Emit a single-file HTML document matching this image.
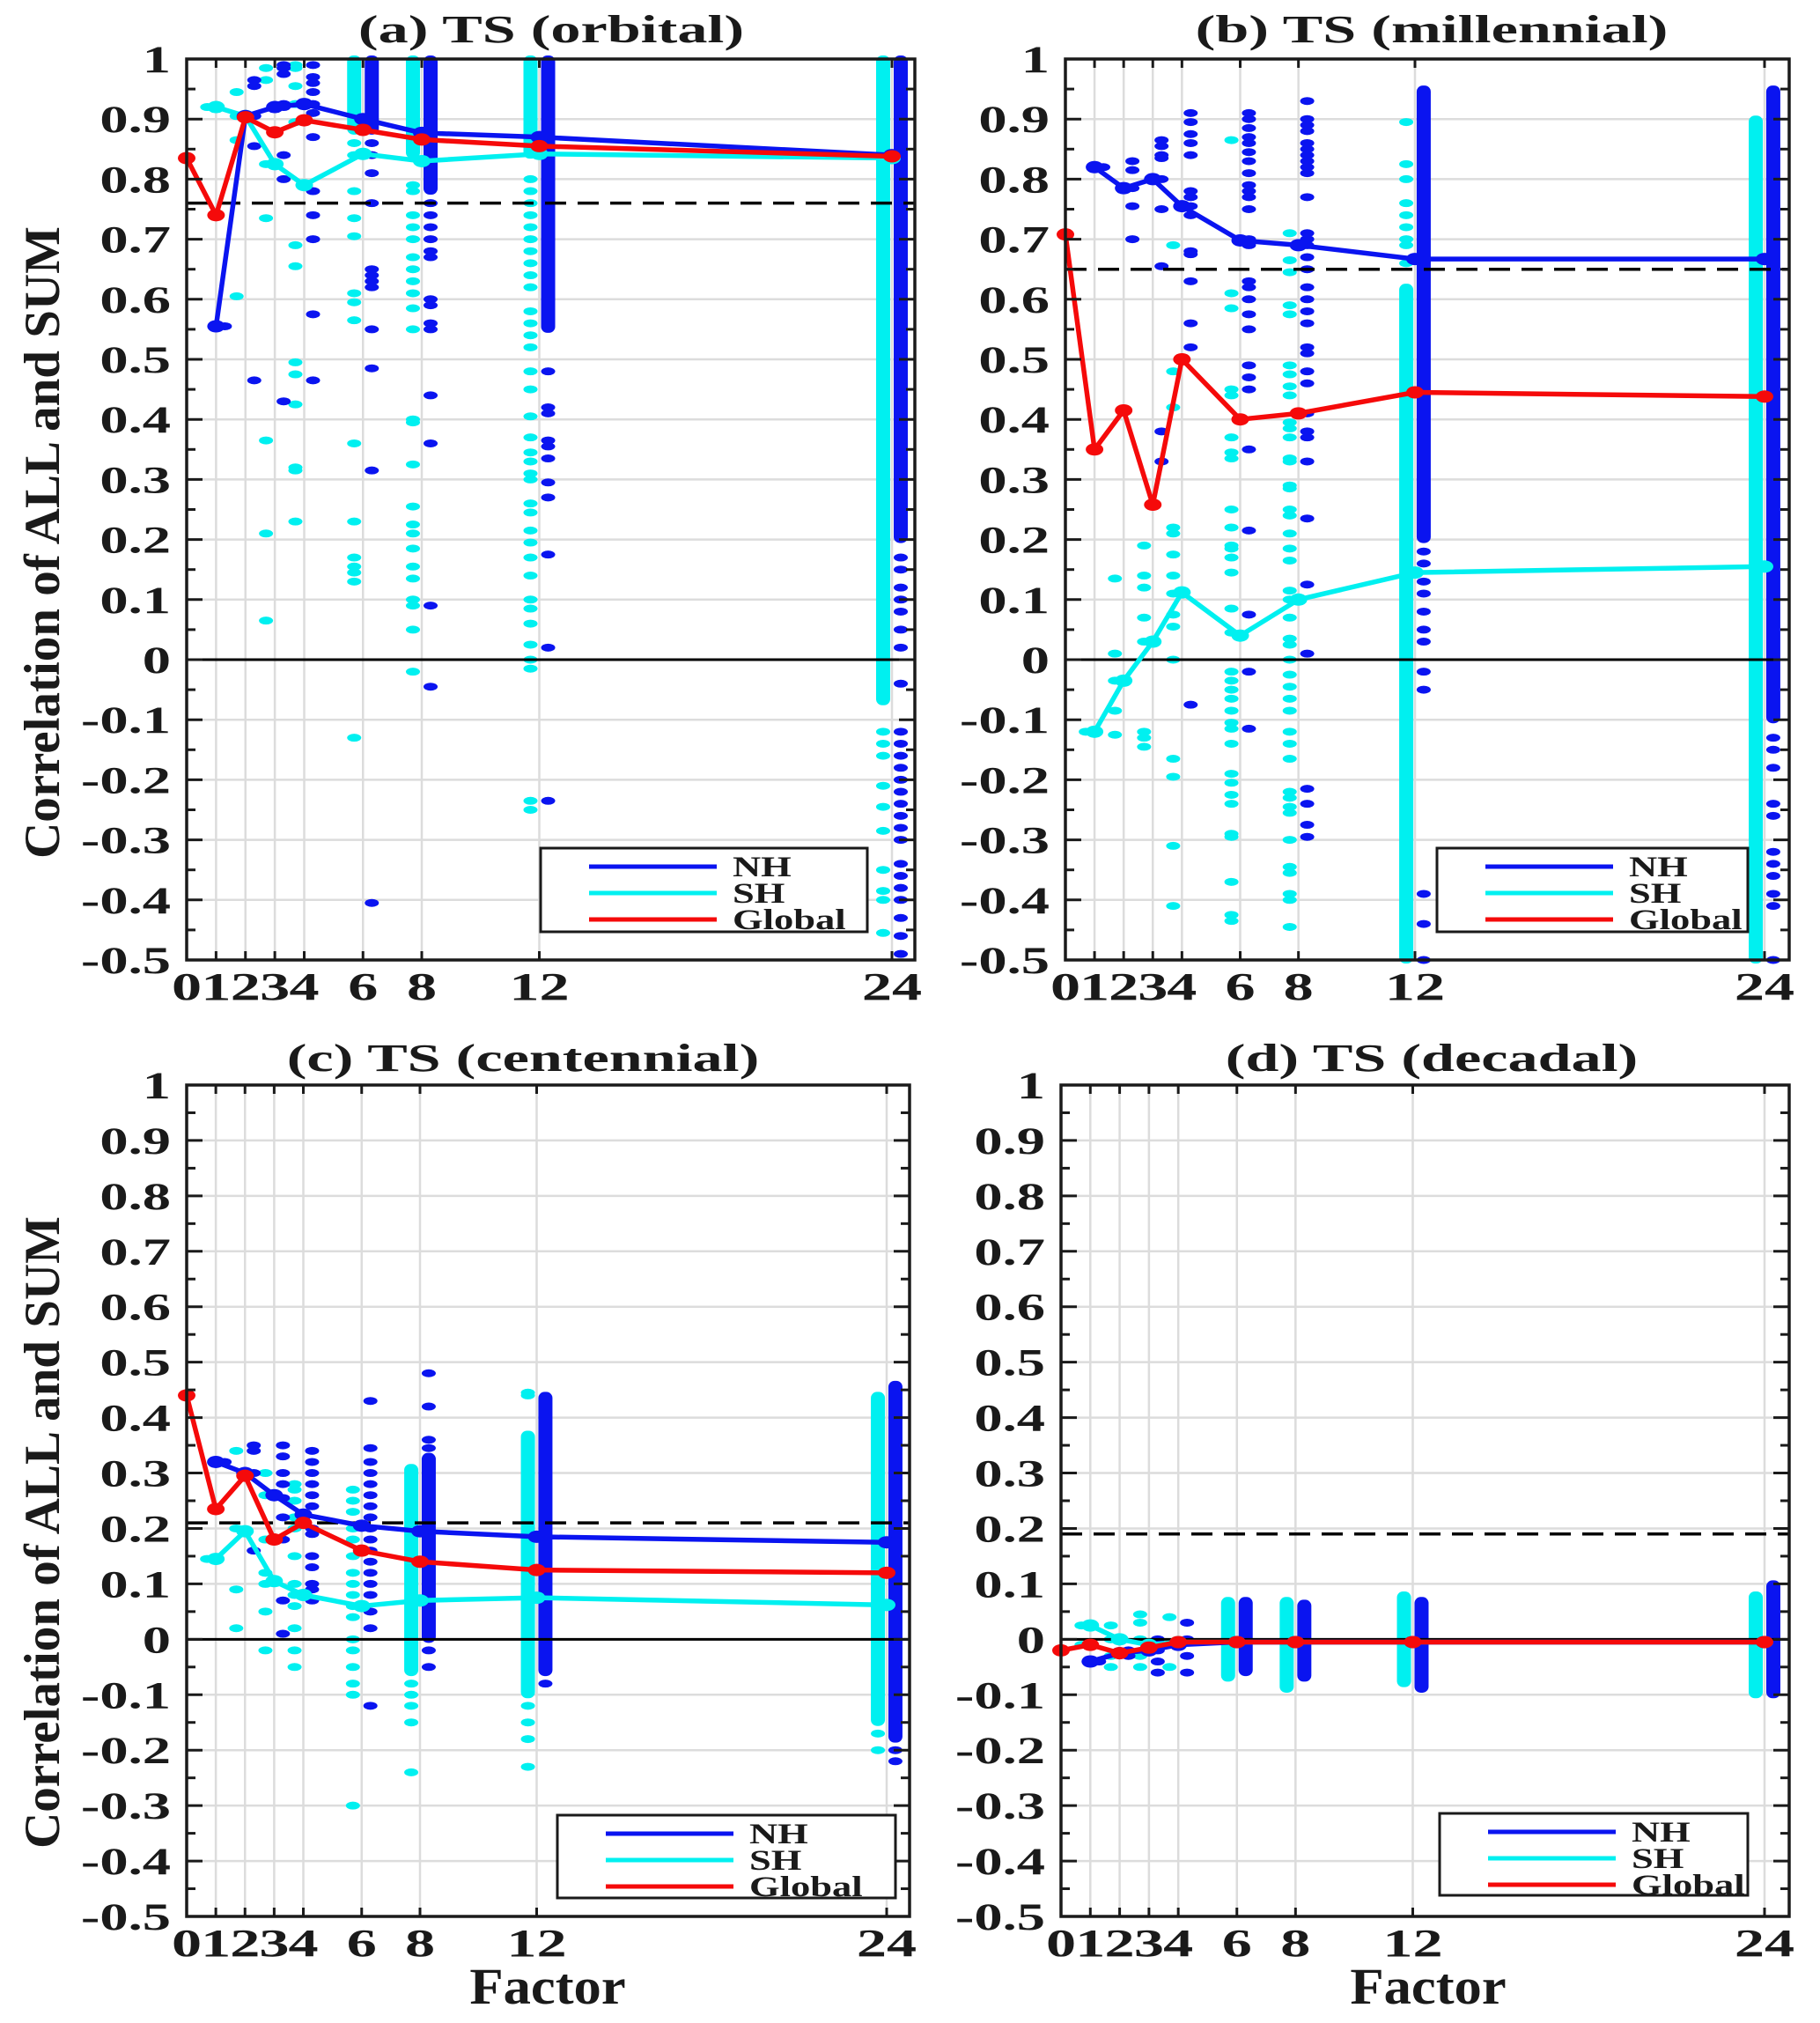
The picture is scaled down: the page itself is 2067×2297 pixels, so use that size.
<!DOCTYPE html>
<html><head><meta charset="utf-8"><title>TS correlations</title>
<style>
html,body{margin:0;padding:0;background:#fff;}
svg{display:block;font-family:"Liberation Serif",serif;font-weight:bold;}
</style></head>
<body>
<svg id="fig" width="2067" height="2297" viewBox="0 0 2067 2297" xmlns="http://www.w3.org/2000/svg">
<rect x="0" y="0" width="2067" height="2297" fill="#fff"/>
<text x="0" y="0" font-size="57" text-anchor="middle" fill="#1a1a1a" transform="translate(67,616) rotate(-90)">Correlation of ALL and SUM</text>
<text x="0" y="0" font-size="57" text-anchor="middle" fill="#1a1a1a" transform="translate(67,1740) rotate(-90)">Correlation of ALL and SUM</text>
<text x="0" y="0" font-size="58" text-anchor="middle" fill="#1a1a1a" transform="translate(622,2275) scale(1.08,1)">Factor</text>
<text x="0" y="0" font-size="58" text-anchor="middle" fill="#1a1a1a" transform="translate(1622,2275) scale(1.08,1)">Factor</text>
</svg>
<script>
const factors = [1,2,3,4,6,8,12,24];
const globalFactors = [0,1,2,3,4,6,8,12,24];
const yTicks = [-0.5,-0.4,-0.3,-0.2,-0.1,0,0.1,0.2,0.3,0.4,0.5,0.6,0.7,0.8,0.9,1];
const yTickLabels = ["-0.5","-0.4","-0.3","-0.2","-0.1","0","0.1","0.2","0.3","0.4","0.5","0.6","0.7","0.8","0.9","1"];
const xTickLabels = ["0","1","2","3","4","6","8","12","24"];

// Panel (a) orbital
const aNH = [0.555,0.905,0.92,0.925,0.90,0.877,0.87,0.84];
const aSH = [0.92,0.905,0.825,0.79,0.842,0.83,0.842,0.835];
const aGL = [0.835,0.74,0.903,0.878,0.898,0.882,0.866,0.855,0.838];
const aThresh = 0.76;
const aNHdots = {1:[0.555],2:[0.965,0.955,0.905,0.855,0.465],3:[0.99,0.985,0.975,0.925,0.92,0.84,0.80,0.43],4:[0.99,0.97,0.96,0.945,0.925,0.91,0.87,0.78,0.74,0.70,0.575,0.465],6:[0.86,0.84,0.81,0.76,0.65,0.64,0.63,0.62,0.55,0.485,0.315,-0.405],8:[0.76,0.74,0.72,0.70,0.68,0.67,0.60,0.59,0.56,0.55,0.44,0.36,0.09,-0.045],12:[0.48,0.42,0.41,0.365,0.355,0.335,0.295,0.27,0.175,0.02,-0.235,-0.32,-0.405,-0.43],24:[0.17,0.15,0.12,0.1,0.08,0.05,0.02,-0.04,-0.12,-0.14,-0.16,-0.18,-0.2,-0.22,-0.24,-0.26,-0.28,-0.3,-0.34,-0.36,-0.38,-0.4,-0.43,-0.46,-0.49]};
const aNHbands = [[6,0.88,1],[8,0.78,1],[12,0.55,1],[24,0.2,1]];
const aSHdots = {1:[0.92],2:[0.945,0.905,0.865,0.605],3:[0.985,0.965,0.825,0.735,0.365,0.21,0.065],4:[0.99,0.985,0.955,0.925,0.895,0.69,0.655,0.495,0.475,0.425,0.32,0.315,0.23],6:[0.86,0.84,0.78,0.735,0.705,0.61,0.595,0.565,0.36,0.23,0.17,0.155,0.145,0.13,-0.13],8:[0.79,0.78,0.74,0.72,0.70,0.67,0.65,0.63,0.61,0.585,0.55,0.4,0.395,0.325,0.255,0.225,0.21,0.185,0.155,0.135,0.1,0.09,0.05,-0.02],12:[0.8,0.78,0.76,0.74,0.72,0.7,0.68,0.66,0.64,0.62,0.58,0.56,0.54,0.52,0.48,0.45,0.405,0.37,0.345,0.33,0.31,0.3,0.26,0.245,0.215,0.195,0.17,0.14,0.1,0.085,0.06,0.025,0.0,-0.015,-0.235,-0.25],24:[-0.12,-0.14,-0.16,-0.21,-0.245,-0.285,-0.35,-0.385,-0.4,-0.455]};
const aSHbands = [[6,0.88,1],[8,0.84,1],[12,0.84,1],[24,-0.07,1]];

// Panel (b) millennial
const bNH = [0.82,0.785,0.80,0.755,0.698,0.69,0.667,0.667];
const bSH = [-0.12,-0.035,0.03,0.112,0.04,0.10,0.145,0.155];
const bGL = [0.708,0.35,0.415,0.258,0.50,0.40,0.41,0.445,0.438];
const bThresh = 0.65;
const bNHdots = {1:[0.82],2:[0.83,0.815,0.785,0.755,0.70],3:[0.865,0.855,0.84,0.835,0.80,0.75,0.655,0.38,0.33],4:[0.91,0.895,0.875,0.86,0.84,0.78,0.77,0.755,0.74,0.68,0.675,0.63,0.56,0.52,-0.075],6:[0.91,0.9,0.885,0.87,0.86,0.845,0.83,0.81,0.79,0.78,0.77,0.75,0.7,0.69,0.63,0.62,0.6,0.575,0.55,0.49,0.47,0.45,0.35,0.215,0.075,-0.02,-0.115],8:[0.93,0.9,0.89,0.88,0.86,0.85,0.84,0.83,0.82,0.81,0.77,0.71,0.7,0.69,0.67,0.65,0.62,0.6,0.58,0.56,0.52,0.51,0.48,0.46,0.41,0.38,0.37,0.33,0.235,0.125,0.01,-0.215,-0.24,-0.275,-0.295],12:[0.18,0.16,0.13,0.11,0.08,0.05,0.03,-0.02,-0.05,-0.39,-0.44,-0.5],24:[-0.13,-0.15,-0.18,-0.24,-0.26,-0.32,-0.34,-0.36,-0.39,-0.41,-0.5]};
const bNHbands = [[12,0.2,0.95],[24,-0.1,0.95]];
const bSHdots = {1:[-0.12],2:[0.135,0.01,-0.035,-0.085,-0.125],3:[0.19,0.14,0.12,0.07,0.03,-0.12,-0.13,-0.145],4:[0.69,0.48,0.42,0.22,0.21,0.175,0.14,0.11,0.075,0.055,0.0,-0.165,-0.195,-0.31,-0.41],6:[0.865,0.61,0.585,0.45,0.44,0.37,0.345,0.335,0.25,0.22,0.19,0.185,0.17,0.145,0.085,0.045,-0.02,-0.035,-0.05,-0.065,-0.085,-0.105,-0.115,-0.14,-0.19,-0.205,-0.225,-0.24,-0.29,-0.295,-0.37,-0.425,-0.435],8:[0.71,0.665,0.645,0.59,0.575,0.49,0.475,0.455,0.44,0.395,0.385,0.37,0.335,0.33,0.29,0.285,0.25,0.24,0.21,0.185,0.165,0.115,0.1,0.07,0.035,0.025,0.0,-0.025,-0.045,-0.065,-0.085,-0.12,-0.14,-0.165,-0.22,-0.23,-0.245,-0.255,-0.3,-0.345,-0.355,-0.39,-0.4,-0.445],12:[0.895,0.825,0.8,0.76,0.74,0.72,0.7,0.69,0.66],24:[]};
const bSHbands = [[12,-0.5,0.62],[24,-0.5,0.9]];

// Panel (c) centennial
const cNH = [0.32,0.30,0.26,0.225,0.205,0.195,0.185,0.175];
const cSH = [0.145,0.195,0.105,0.08,0.06,0.07,0.075,0.062];
const cGL = [0.44,0.235,0.295,0.18,0.21,0.16,0.14,0.125,0.12];
const cThresh = 0.21;
const cNHdots = {1:[0.32],2:[0.35,0.34,0.3,0.16],3:[0.35,0.33,0.3,0.28,0.255,0.22,0.18,0.07,0.01],4:[0.34,0.32,0.3,0.28,0.26,0.24,0.2,0.19,0.15,0.13,0.1,0.09,0.07],6:[0.43,0.345,0.32,0.3,0.28,0.26,0.24,0.22,0.2,0.18,0.16,0.14,0.12,0.1,0.08,0.05,0.02,-0.12],8:[0.48,0.42,0.36,0.345,-0.02,-0.05],12:[-0.08],24:[-0.2,-0.22]};
const cNHbands = [[8,0.0,0.33],[12,-0.06,0.44],[24,-0.18,0.46]];
const cSHdots = {1:[0.145],2:[0.34,0.2,0.09,0.02],3:[0.3,0.26,0.18,0.12,0.1,0.05,-0.02],4:[0.28,0.27,0.25,0.22,0.2,0.15,0.1,0.08,0.06,0.02,-0.02,-0.05],6:[0.27,0.25,0.23,0.2,0.18,0.15,0.12,0.1,0.08,0.06,0.04,0.0,-0.02,-0.05,-0.08,-0.1,-0.3],8:[-0.08,-0.1,-0.12,-0.15,-0.24],12:[0.445,0.44,-0.12,-0.15,-0.18,-0.23],24:[-0.17,-0.2,-0.37]};
const cSHbands = [[8,-0.06,0.31],[12,-0.1,0.37],[24,-0.15,0.44]];

// Panel (d) decadal
const dNH = [-0.04,-0.025,-0.02,-0.01,-0.005,-0.005,-0.005,-0.005];
const dSH = [0.025,0.0,-0.01,-0.005,-0.005,-0.005,-0.005,-0.005];
const dGL = [-0.02,-0.01,-0.025,-0.015,-0.005,-0.005,-0.005,-0.005,-0.005];
const dThresh = 0.19;
const dNHdots = {1:[-0.04],2:[-0.02,-0.03],3:[0.0,-0.02,-0.04,-0.06],4:[0.03,0.0,-0.03,-0.06],6:[],8:[],12:[],24:[]};
const dNHbands = [[6,-0.06,0.07],[8,-0.07,0.065],[12,-0.09,0.07],[24,-0.1,0.1]];
const dSHdots = {1:[0.025,-0.01],2:[0.025,0.0,-0.03,-0.05],3:[0.045,0.03,0.0,-0.03,-0.05],4:[0.04,-0.05],6:[],8:[],12:[],24:[]};
const dSHbands = [[6,-0.07,0.07],[8,-0.09,0.07],[12,-0.08,0.08],[24,-0.1,0.08]];

const NS = "http://www.w3.org/2000/svg";
const svg = document.getElementById('fig');
function mk(tag, attrs, parent){
  const e = document.createElementNS(NS, tag);
  for (const k in attrs) e.setAttribute(k, attrs[k]);
  (parent||svg).appendChild(e);
  return e;
}
function txt(parent, x, y, size, sx, anchor, str){
  const t = mk('text', {x:0, y:0, 'font-size':size, 'text-anchor':anchor, fill:'#1a1a1a',
    transform:'translate(' + x + ',' + y + ') scale(' + sx + ',1)'}, parent);
  t.textContent = str;
  return t;
}
const BLUE = "#0a14f0", CYAN = "#00f0f0", RED = "#f50a0a";

function drawPanel(p){
  const g = mk('g', {});
  
  
  const sx = v => p.L + v * (p.x24 - p.L) / 24;
  const sy = v => p.B - (v + 0.5) / 1.5 * (p.B - p.T);
  factors.forEach(f => {
    const l = mk('line', {x1:sx(f), x2:sx(f), y1:p.T, y2:p.B, stroke:'#dcdcdc', 'stroke-width':2.5}, g);
    
    
  });
  yTicks.forEach(v => {
    const l = mk('line', {x1:p.L, x2:p.R, y1:sy(v), y2:sy(v), stroke:'#dcdcdc', 'stroke-width':2.5}, g);
    
    
  });
  function dots(obj, bands, col, off, nm){
    bands.forEach(b => {
      const x = sx(b[0] + off);
      const r = mk('rect', {x:x-8, y:sy(b[2])-4, width:16, height:sy(b[1])-sy(b[2])+8, rx:7, fill:col}, g);
      
      
    });
    Object.keys(obj).forEach(k => {
      obj[k].forEach(v => {
        const e = mk('ellipse', {cx:sx(+k + off), cy:sy(v), rx:8, ry:4.5, fill:col}, g);
        
        
      });
    });
  }
  dots(p.shDots, p.shBands, CYAN, -0.3, 'sh');
  dots(p.nhDots, p.nhBands, BLUE, 0.3, 'nh');
  const z = mk('line', {x1:p.L, x2:p.R, y1:sy(0), y2:sy(0), stroke:'#000', 'stroke-width':3}, g);
  
  
  const t = mk('line', {x1:p.L, x2:p.R, y1:sy(p.thresh), y2:sy(p.thresh), stroke:'#000', 'stroke-width':3.5, 'stroke-dasharray':'24 13'}, g);
  
  
  function series(xs, ys, col, nm){
    const pts = xs.map((x,i) => sx(x) + ',' + sy(ys[i])).join(' ');
    const pl = mk('polyline', {points:pts, fill:'none', stroke:col, 'stroke-width':5.5, 'stroke-linejoin':'round'}, g);
    
    
    xs.forEach((x,i) => {
      const m = mk('ellipse', {cx:sx(x), cy:sy(ys[i]), rx:10, ry:7, fill:col}, g);
      
      
    });
  }
  series(factors, p.sh, CYAN, 'sh');
  series(factors, p.nh, BLUE, 'nh');
  series(globalFactors, p.gl, RED, 'global');
  const fr = mk('rect', {x:p.L, y:p.T, width:p.R-p.L, height:p.B-p.T, fill:'none', stroke:'#1a1a1a', 'stroke-width':3.5}, g);
  
  
  for (let i = 0; i < yTicks.length; i++){
    const y = sy(yTicks[i]);
    mk('line', {x1:p.L, x2:p.L+18, y1:y, y2:y, stroke:'#1a1a1a', 'stroke-width':3}, g);
    mk('line', {x1:p.R, x2:p.R-18, y1:y, y2:y, stroke:'#1a1a1a', 'stroke-width':3}, g);
    if (i < yTicks.length-1){
      const ym = sy(yTicks[i] + 0.05);
      mk('line', {x1:p.L, x2:p.L+10, y1:ym, y2:ym, stroke:'#1a1a1a', 'stroke-width':3}, g);
      mk('line', {x1:p.R, x2:p.R-10, y1:ym, y2:ym, stroke:'#1a1a1a', 'stroke-width':3}, g);
    }
    const tl = txt(g, p.L-18, y+15, 43, 1.5, 'end', yTickLabels[i]);
    
    
  }
  globalFactors.forEach((f,i) => {
    const x = sx(f);
    if (f > 0){
      mk('line', {x1:x, x2:x, y1:p.T, y2:p.T+10, stroke:'#1a1a1a', 'stroke-width':3}, g);
      mk('line', {x1:x, x2:x, y1:p.B, y2:p.B-10, stroke:'#1a1a1a', 'stroke-width':3}, g);
    }
    const xl = txt(g, x, p.B+45, 44, 1.55, 'middle', xTickLabels[i]);
    
    
  });
  const ti = txt(g, p.tx, p.ty, 44, 1.55, 'middle', p.title);
  
  
  const lg = mk('g', {}, g);
  
  
  mk('rect', {x:p.lx, y:p.ly, width:p.lw, height:p.lh, fill:'#fff', stroke:'#1a1a1a', 'stroke-width':3}, lg);
  const entries = [['NH',BLUE],['SH',CYAN],['Global',RED]];
  entries.forEach((en,i) => {
    const yy = p.ly + 21 + i*30;
    const ent = mk('g', {}, lg);
    
    
    mk('line', {x1:p.lx+55, x2:p.lx+200, y1:yy, y2:yy, stroke:en[1], 'stroke-width':5}, ent);
    txt(ent, p.lx+218, yy+11, 33, 1.35, 'start', en[0]);
  });
}

drawPanel({name:'panel-a-orbital', title:'(a) TS (orbital)', tx:626, ty:48, L:212, R:1039, T:67, B:1090, x24:1013,
  nh:aNH, sh:aSH, gl:aGL, thresh:aThresh, nhDots:aNHdots, nhBands:aNHbands, shDots:aSHdots, shBands:aSHbands,
  lx:614, ly:963, lw:371, lh:95});
drawPanel({name:'panel-b-millennial', title:'(b) TS (millennial)', tx:1626, ty:48, L:1210, R:2032, T:67, B:1090, x24:2004,
  nh:bNH, sh:bSH, gl:bGL, thresh:bThresh, nhDots:bNHdots, nhBands:bNHbands, shDots:bSHdots, shBands:bSHbands,
  lx:1632, ly:963, lw:353, lh:95});
drawPanel({name:'panel-c-centennial', title:'(c) TS (centennial)', tx:594, ty:1216, L:212, R:1033, T:1232, B:2176, x24:1007,
  nh:cNH, sh:cSH, gl:cGL, thresh:cThresh, nhDots:cNHdots, nhBands:cNHbands, shDots:cSHdots, shBands:cSHbands,
  lx:633, ly:2061, lw:384, lh:94});
drawPanel({name:'panel-d-decadal', title:'(d) TS (decadal)', tx:1626, ty:1216, L:1205, R:2032, T:1232, B:2176, x24:2004,
  nh:dNH, sh:dSH, gl:dGL, thresh:dThresh, nhDots:dNHdots, nhBands:dNHbands, shDots:dSHdots, shBands:dSHbands,
  lx:1635, ly:2059, lw:350, lh:93});
</script>
</body></html>
